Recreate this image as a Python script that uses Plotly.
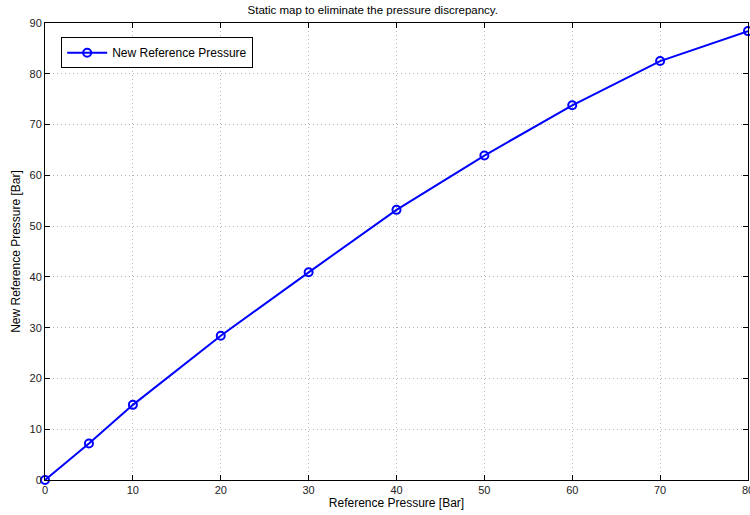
import plotly.graph_objects as go

ref_pressure = [0, 5, 10, 20, 30, 40, 50, 60, 70, 80]
new_ref_pressure = [0, 7.2, 14.8, 28.4, 40.9, 53.2, 63.9, 73.8, 82.5, 88.4]
x_ticks = [0, 10, 20, 30, 40, 50, 60, 70, 80]
y_ticks = [0, 10, 20, 30, 40, 50, 60, 70, 80, 90]

fig = go.Figure()
fig.add_trace(go.Scatter(
    x=ref_pressure, y=new_ref_pressure, mode="lines+markers",
    name="New Reference Pressure",
    line=dict(color="#0000ff", width=2),
    marker=dict(symbol="circle-open", size=8, color="#0000ff", line=dict(width=2, color="#0000ff")),
    cliponaxis=False,
))

axis_common = dict(
    showline=True, linecolor="black", linewidth=1, mirror="ticks",
    ticks="inside", ticklen=5, tickcolor="black", tickwidth=1,
    showgrid=True, gridcolor="#b4b4b4", griddash="1px,3px", gridwidth=1,
    zeroline=False, ticklabeloverflow="allow", automargin=False,
    tickfont=dict(family="Liberation Sans, Arial", size=11, color="#222"),
)

fig.update_layout(
    width=750, height=515,
    margin=dict(l=45, r=2, t=23, b=35, autoexpand=False),
    paper_bgcolor="white", plot_bgcolor="white",
    title=dict(text="Static map to eliminate the pressure discrepancy.",
               x=0.497, xanchor="center", y=1 - 10 / 515, yanchor="middle",
               font=dict(family="Liberation Sans, Arial", size=11.5, color="black")),
    xaxis=dict(range=[0, 80], tickvals=x_ticks,
               title=dict(text="Reference Pressure [Bar]", standoff=2,
                          font=dict(family="Liberation Sans, Arial", size=12, color="black")),
               **axis_common),
    yaxis=dict(range=[0, 90], tickvals=y_ticks,
               title=dict(text="New Reference Pressure [Bar]", standoff=6,
                          font=dict(family="Liberation Sans, Arial", size=12, color="black")),
               **axis_common),
    showlegend=True,
    legend=dict(x=0.023, y=0.969, xanchor="left", yanchor="top",
                bgcolor="white", bordercolor="black", borderwidth=1,
                font=dict(family="Liberation Sans, Arial", size=12, color="black"),
                itemwidth=40, tracegroupgap=0),
    font=dict(family="Liberation Sans, Arial"),
)

fig.write_html("out.html")
